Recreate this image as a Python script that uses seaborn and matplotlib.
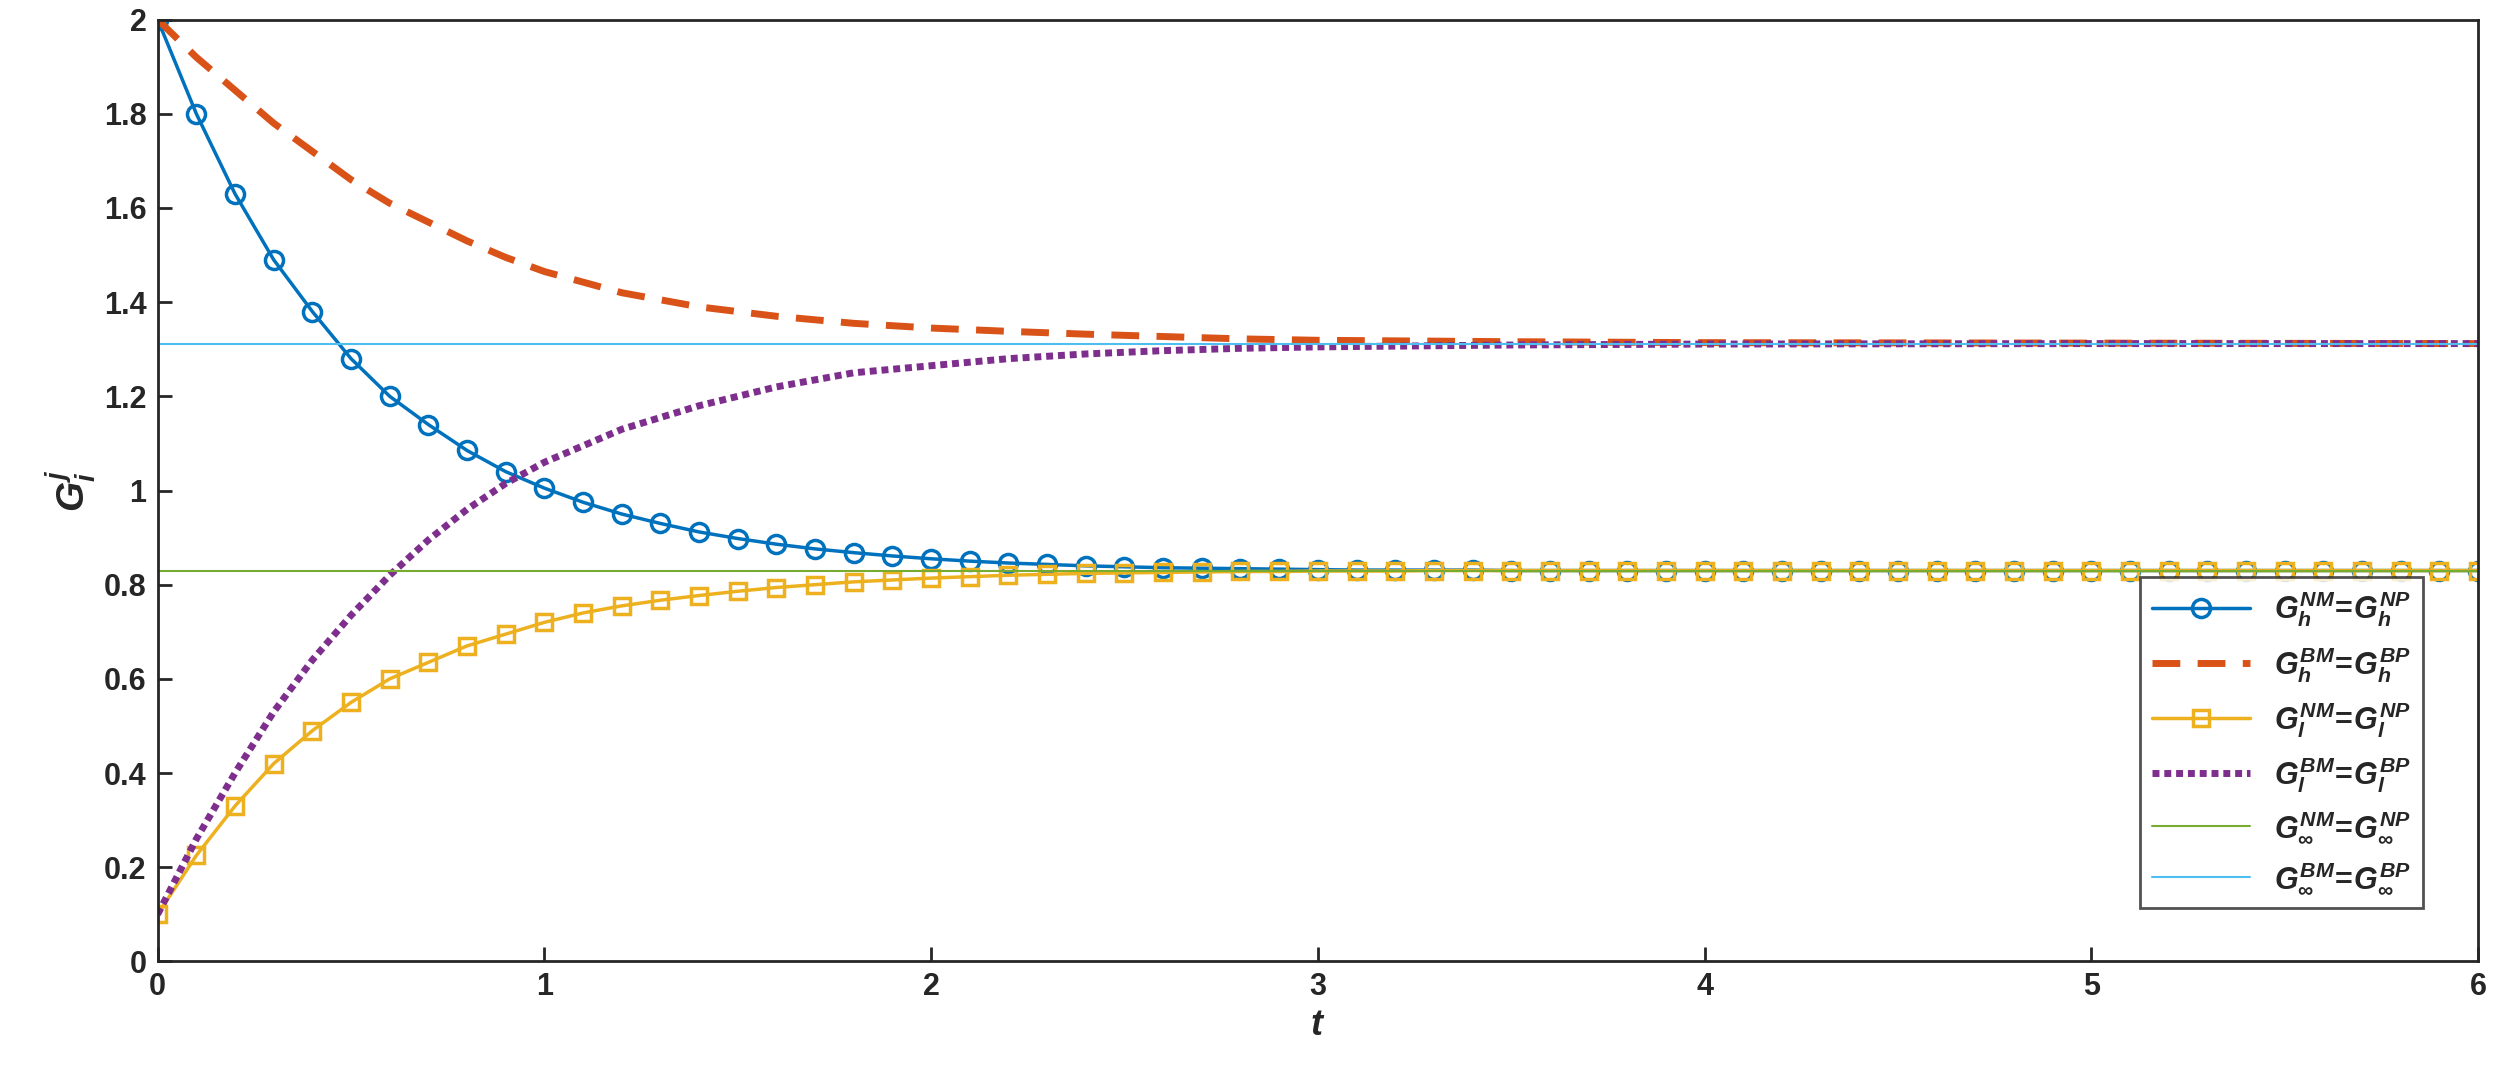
import numpy as np
import pandas as pd
import matplotlib
matplotlib.use("Agg")
import matplotlib.pyplot as plt
import seaborn as sns

t_marks = [round(0.1 * i, 1) for i in range(61)]
g_h_N = [2.0, 1.80, 1.63, 1.49, 1.38, 1.28, 1.20, 1.14, 1.085, 1.04, 1.005, 0.975, 0.95, 0.93, 0.912, 0.898,
         0.886, 0.876, 0.868, 0.861, 0.855, 0.85, 0.846, 0.843, 0.84, 0.838, 0.836, 0.835, 0.834, 0.833, 0.832,
         0.831, 0.831, 0.831, 0.831, 0.830, 0.830, 0.830, 0.830, 0.830, 0.830, 0.830, 0.830, 0.830, 0.830,
         0.830, 0.830, 0.830, 0.830, 0.830, 0.830, 0.830, 0.830, 0.830, 0.830, 0.830, 0.830, 0.830, 0.830,
         0.830, 0.830]
g_l_N = [0.10, 0.225, 0.33, 0.42, 0.49, 0.55, 0.60, 0.635, 0.67, 0.695, 0.72, 0.74, 0.755, 0.767, 0.777, 0.786,
         0.794, 0.800, 0.806, 0.810, 0.814, 0.817, 0.820, 0.822, 0.824, 0.825, 0.826, 0.827, 0.828, 0.828, 0.829,
         0.829, 0.829, 0.830, 0.830, 0.830, 0.830, 0.830, 0.830, 0.830, 0.830, 0.830, 0.830, 0.830, 0.830,
         0.830, 0.830, 0.830, 0.830, 0.830, 0.830, 0.830, 0.830, 0.830, 0.830, 0.830, 0.830, 0.830, 0.830,
         0.830, 0.830]
t_B = [0, 0.1, 0.2, 0.3, 0.4, 0.5, 0.6, 0.7, 0.8, 0.9, 1.0, 1.2, 1.4, 1.6, 1.8, 2.0, 2.2, 2.4, 2.6, 2.8, 3.0, 3.5, 4.0, 5.0, 6.0]
g_h_B = [2.0, 1.92, 1.85, 1.78, 1.72, 1.66, 1.61, 1.57, 1.53, 1.495, 1.465, 1.42, 1.39, 1.37, 1.355, 1.345,
         1.338, 1.332, 1.327, 1.322, 1.319, 1.316, 1.314, 1.313, 1.312]
g_l_B = [0.10, 0.26, 0.40, 0.53, 0.64, 0.735, 0.82, 0.895, 0.96, 1.015, 1.06, 1.13, 1.18, 1.22, 1.25, 1.265,
         1.28, 1.29, 1.297, 1.302, 1.305, 1.309, 1.311, 1.312, 1.312]
g_inf_N = 0.83
g_inf_B = 1.312
labels = [r"$G_h^{NM}\!=\!G_h^{NP}$", r"$G_h^{BM}\!=\!G_h^{BP}$", r"$G_l^{NM}\!=\!G_l^{NP}$",
          r"$G_l^{BM}\!=\!G_l^{BP}$", r"$G_\infty^{NM}\!=\!G_\infty^{NP}$", r"$G_\infty^{BM}\!=\!G_\infty^{BP}$"]

sns.set_style("ticks")
plt.rcParams["font.family"] = ["Liberation Sans", "DejaVu Sans"]
plt.rcParams["font.weight"] = "bold"
plt.rcParams["mathtext.fontset"] = "custom"
plt.rcParams["mathtext.it"] = "Liberation Sans:bold:italic"
plt.rcParams["mathtext.rm"] = "Liberation Sans:bold"
plt.rcParams["mathtext.bf"] = "Liberation Sans:bold"

fig, ax = plt.subplots(figsize=(25.03, 10.9), dpi=100)
fig.subplots_adjust(left=0.063, right=0.99, top=0.982, bottom=0.118)

sns.lineplot(x=t_marks, y=g_h_N, ax=ax, color="#0072BD", lw=2.5, marker="o", ms=13, mfc="none",
             mec="#0072BD", mew=2.5, label=labels[0])
sns.lineplot(x=t_B, y=g_h_B, ax=ax, color="#D95319", lw=5, dashes=(4, 2.5), label=labels[1])
sns.lineplot(x=t_marks, y=g_l_N, ax=ax, color="#EDB120", lw=2.5, marker="s", ms=11, mfc="none",
             mec="#EDB120", mew=2.5, label=labels[2])
sns.lineplot(x=t_B, y=g_l_B, ax=ax, color="#7E2F8E", lw=5, dashes=(1, 0.7), label=labels[3])
ax.axhline(g_inf_N, color="#77AC30", lw=1.5, label=labels[4])
ax.axhline(g_inf_B, color="#4DBEEE", lw=1.5, label=labels[5])

ax.set_xlim(0, 6)
ax.set_ylim(0, 2)
ax.set_xticks(range(7))
ax.set_yticks(np.arange(0, 2.01, 0.2))
ax.set_yticklabels(["0", "0.2", "0.4", "0.6", "0.8", "1", "1.2", "1.4", "1.6", "1.8", "2"])
ax.tick_params(direction="in", length=10, width=2, labelsize=22, pad=8, top=False, right=False)
for s in ax.spines.values():
    s.set_visible(True)
    s.set_linewidth(2)
    s.set_color("#262626")
ax.set_xlabel(r"$t$", fontsize=26)
ax.set_ylabel(r"$G_i^j$", fontsize=28)
leg = ax.legend(loc="lower right", bbox_to_anchor=(0.983, 0.04), fontsize=22, frameon=True, fancybox=False,
                edgecolor="#262626", handlelength=3.2, labelspacing=0.5)
leg.get_frame().set_linewidth(2)
fig.savefig("out.png", dpi=100)
